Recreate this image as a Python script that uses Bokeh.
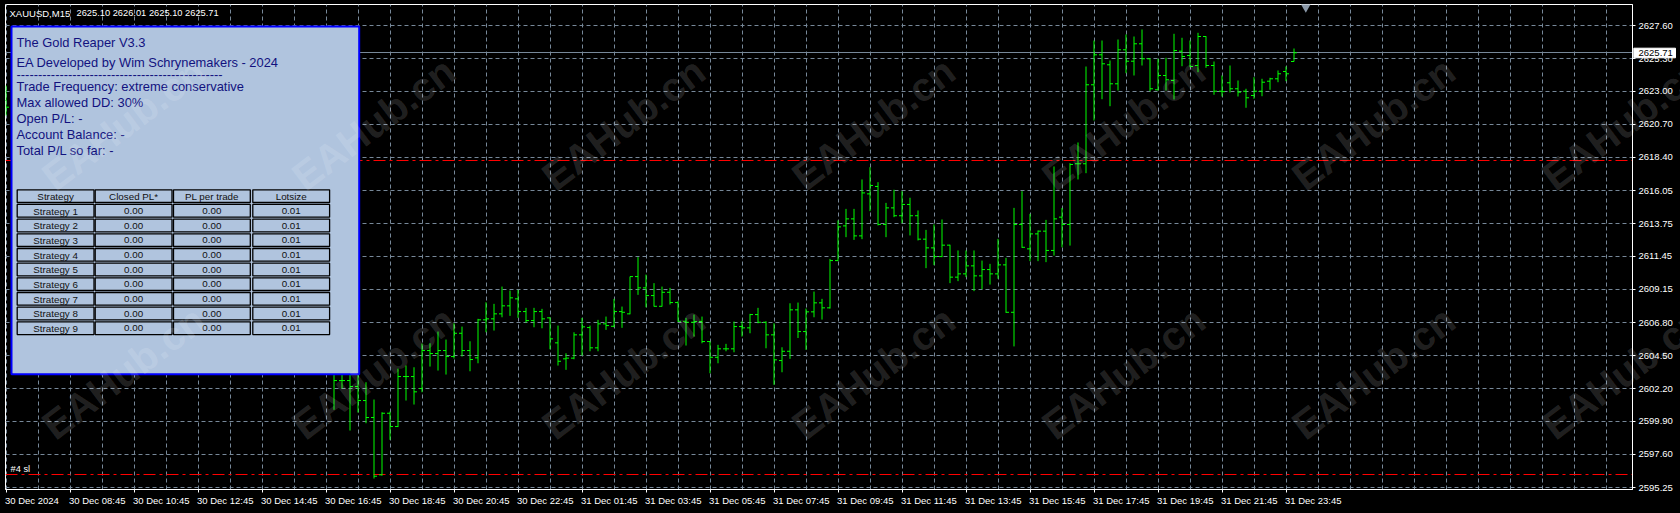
import math
from bokeh.plotting import figure
from bokeh.models import Range1d, FixedTicker, NumeralTickFormatter, ColumnDataSource
from bokeh.core.properties import value
from bokeh.embed import file_html
from bokeh.resources import INLINE

# ---------------- data ----------------
symbol = "XAUUSD,M15"
header_ohlc = ["2625.10", "2626.01", "2625.10", "2625.71"]
current_price = 2625.71

# bar positions (15-minute bars counted from the left edge of the window)
bar_index = [0] + list(range(41, 162))
opens = [2622.37,
         2604.02, 2602.76, 2602.76, 2602.34, 2601.36, 2600.17, 2596.16, 2600.47, 2599.54, 2603.04,
         2603.04, 2602.20, 2604.86, 2604.65, 2604.86, 2604.44, 2606.07, 2604.86, 2604.35, 2607.01,
         2607.08, 2607.43, 2607.99, 2608.48, 2607.59, 2606.96, 2607.59, 2607.15, 2605.40, 2604.28,
         2604.33, 2605.96, 2606.47, 2605.05, 2606.73, 2606.56, 2607.59, 2607.43, 2610.04, 2609.25,
         2608.71, 2607.96, 2608.94, 2608.22, 2606.91, 2606.84, 2606.89, 2605.49, 2604.39, 2604.98,
         2604.98, 2606.54, 2606.45, 2607.38, 2606.84, 2605.96, 2604.16, 2604.81, 2607.71, 2606.19,
         2607.57, 2608.20, 2607.85, 2611.16, 2613.59, 2614.08, 2612.89, 2615.83, 2616.35, 2613.69,
         2614.85, 2614.30, 2615.09, 2614.30, 2612.66, 2612.05, 2611.44, 2612.24, 2610.00, 2610.23,
         2610.79, 2610.09, 2610.53, 2610.23, 2610.86, 2607.54, 2613.69, 2611.98, 2613.03, 2613.22,
         2611.87, 2614.20, 2613.69, 2617.94, 2617.94, 2623.47, 2625.57, 2624.87, 2623.54, 2625.92,
         2625.12, 2626.34, 2625.29, 2623.12, 2624.12, 2623.77, 2625.82, 2625.52, 2624.82, 2626.85,
         2624.82, 2623.02, 2623.61, 2623.19, 2623.02, 2622.72, 2623.02, 2623.72, 2623.89, 2624.40,
         2625.10]
highs = [2623.42,
         2604.72, 2603.60, 2603.46, 2603.32, 2602.64, 2601.43, 2600.54, 2600.59, 2603.60, 2603.81,
         2603.69, 2605.35, 2605.37, 2606.19, 2605.63, 2606.77, 2606.54, 2605.51, 2607.08, 2608.24,
         2608.13, 2609.34, 2609.06, 2609.11, 2607.85, 2607.85, 2607.78, 2607.19, 2606.61, 2604.67,
         2606.14, 2607.15, 2606.61, 2607.01, 2607.24, 2608.48, 2607.94, 2610.04, 2611.40, 2610.18,
         2609.58, 2609.34, 2609.25, 2608.31, 2607.15, 2607.38, 2607.24, 2605.51, 2605.26, 2605.33,
         2606.89, 2606.91, 2607.43, 2607.85, 2606.91, 2606.77, 2605.09, 2608.17, 2608.22, 2607.80,
         2608.99, 2608.48, 2611.28, 2613.97, 2614.78, 2614.78, 2616.84, 2617.70, 2616.65, 2615.20,
         2616.12, 2616.02, 2615.56, 2614.67, 2613.31, 2613.69, 2614.04, 2612.27, 2611.87, 2611.87,
         2611.87, 2611.16, 2610.93, 2612.68, 2611.35, 2614.85, 2616.02, 2614.43, 2613.27, 2614.01,
         2617.75, 2614.85, 2617.98, 2619.43, 2624.75, 2626.57, 2626.57, 2625.17, 2626.64, 2626.99,
         2626.85, 2627.34, 2625.32, 2625.29, 2625.36, 2627.04, 2626.76, 2626.57, 2627.11, 2626.87,
         2625.10, 2624.12, 2624.82, 2623.77, 2623.19, 2624.00, 2623.89, 2623.96, 2624.47, 2624.75,
         2626.01]
lows = [2621.32,
        2600.71, 2602.20, 2599.26, 2600.52, 2599.77, 2595.90, 2596.10, 2598.61, 2599.50, 2601.36,
        2601.08, 2601.94, 2603.74, 2603.46, 2603.18, 2604.30, 2604.44, 2603.41, 2603.97, 2606.14,
        2606.26, 2607.19, 2607.29, 2607.15, 2606.82, 2606.49, 2606.42, 2604.95, 2603.81, 2603.51,
        2604.25, 2604.51, 2604.81, 2604.81, 2606.31, 2606.49, 2606.45, 2607.40, 2608.76, 2607.89,
        2607.94, 2607.94, 2608.08, 2606.88, 2605.21, 2605.84, 2605.37, 2603.27, 2603.97, 2604.81,
        2604.74, 2605.84, 2606.07, 2606.77, 2605.02, 2602.46, 2603.34, 2604.28, 2605.74, 2604.91,
        2607.19, 2607.03, 2607.80, 2611.12, 2612.80, 2612.61, 2612.66, 2614.62, 2613.62, 2612.80,
        2614.20, 2613.78, 2612.92, 2612.57, 2610.63, 2610.84, 2611.40, 2609.58, 2609.72, 2610.00,
        2609.02, 2609.16, 2609.48, 2609.89, 2607.50, 2605.15, 2612.05, 2611.12, 2611.12, 2611.05,
        2611.51, 2612.09, 2612.21, 2616.84, 2617.28, 2620.97, 2622.46, 2621.97, 2623.07, 2624.28,
        2624.12, 2624.82, 2623.02, 2623.07, 2623.07, 2622.44, 2624.77, 2624.70, 2624.35, 2624.66,
        2622.77, 2622.65, 2622.93, 2622.65, 2621.86, 2622.49, 2622.67, 2623.12, 2623.65, 2623.72,
        2625.10]
closes = [2621.90,
          2602.76, 2602.76, 2602.34, 2601.36, 2600.17, 2596.06, 2600.47, 2599.54, 2603.04, 2603.04,
          2601.97, 2604.86, 2604.65, 2604.86, 2604.44, 2606.07, 2604.86, 2604.23, 2607.01, 2607.08,
          2607.43, 2607.99, 2608.55, 2607.59, 2606.96, 2607.59, 2607.08, 2605.68, 2604.11, 2604.33,
          2605.96, 2606.52, 2605.05, 2606.73, 2606.61, 2607.59, 2607.54, 2610.04, 2609.25, 2608.71,
          2607.96, 2608.94, 2608.22, 2606.91, 2606.84, 2606.89, 2605.49, 2604.39, 2604.98, 2604.98,
          2606.54, 2606.45, 2607.38, 2606.84, 2605.96, 2604.21, 2604.81, 2607.71, 2606.19, 2607.57,
          2608.20, 2607.85, 2611.16, 2613.52, 2614.08, 2612.89, 2615.90, 2616.42, 2613.69, 2614.85,
          2614.30, 2615.09, 2614.30, 2612.66, 2612.05, 2611.44, 2612.24, 2610.00, 2610.23, 2610.79,
          2610.09, 2610.53, 2610.23, 2610.86, 2607.54, 2613.69, 2612.09, 2613.03, 2613.22, 2611.87,
          2614.08, 2613.69, 2617.89, 2617.94, 2623.47, 2625.57, 2624.94, 2623.54, 2625.92, 2625.12,
          2626.34, 2625.29, 2623.19, 2624.12, 2623.82, 2625.87, 2625.45, 2624.75, 2626.85, 2624.82,
          2623.02, 2622.99, 2623.19, 2622.95, 2622.56, 2623.02, 2623.65, 2623.89, 2624.24, 2624.24,
          2625.71]

time_tick_bars = [0, 8, 16, 24, 32, 40, 48, 56, 64, 72, 80, 88, 96, 104, 112, 120, 128, 136, 144, 152, 160]
time_tick_labels = ["30 Dec 2024", "30 Dec 08:45", "30 Dec 10:45", "30 Dec 12:45", "30 Dec 14:45",
                    "30 Dec 16:45", "30 Dec 18:45", "30 Dec 20:45", "30 Dec 22:45", "31 Dec 01:45",
                    "31 Dec 03:45", "31 Dec 05:45", "31 Dec 07:45", "31 Dec 09:45", "31 Dec 11:45",
                    "31 Dec 13:45", "31 Dec 15:45", "31 Dec 17:45", "31 Dec 19:45", "31 Dec 21:45",
                    "31 Dec 23:45"]
price_ticks = [2595.25, 2597.60, 2599.90, 2602.20, 2604.50, 2606.80, 2609.15, 2611.45,
               2613.75, 2616.05, 2618.40, 2620.70, 2623.00, 2625.30, 2627.60]

order_line_level = 2618.15
stop_loss_level = 2596.16
stop_loss_label = "#4 sl"

panel_lines = ["The Gold Reaper V3.3",
               "EA Developed by Wim Schrynemakers - 2024",
               "------------------------------------------------",
               "Trade Frequency: extreme conservative",
               "Max allowed DD: 30%",
               "Open P/L: -",
               "Account Balance: -",
               "Total P/L so far: -"]
table_header = ["Strategy", "Closed PL*", "PL per trade", "Lotsize"]
strategies = ["Strategy 1", "Strategy 2", "Strategy 3", "Strategy 4", "Strategy 5",
              "Strategy 6", "Strategy 7", "Strategy 8", "Strategy 9"]
closed_pl = ["0.00", "0.00", "0.00", "0.00", "0.00", "0.00", "0.00", "0.00", "0.00"]
pl_per_trade = ["0.00", "0.00", "0.00", "0.00", "0.00", "0.00", "0.00", "0.00", "0.00"]
lotsize = ["0.01", "0.01", "0.01", "0.01", "0.01", "0.01", "0.01", "0.01", "0.01"]
watermark = "EAHub.cn"

# ---------------- layout (pixels of the terminal window) ----------------
W, H = 1680, 513
FRAME_L, FRAME_T, FRAME_R, FRAME_B = 5, 4, 1632, 489
BAR_PX = 8.0
REF_X0 = 5.5             # screen x of bar 0
PRICE_AT_Y0 = 2629.3715  # price at screen y = 0
PRICE_PER_PX = 0.0700216


def rx(px):
    return (px - REF_X0) / BAR_PX


def ry(py):
    return PRICE_AT_Y0 - PRICE_PER_PX * py


X_START, X_END = rx(FRAME_L), rx(FRAME_R)
FONT = value("Liberation Sans")
GREEN = "#00FF00"
GRID = "#778899"

p = figure(width=W, height=H, x_range=Range1d(X_START, X_END),
           y_range=Range1d(ry(FRAME_B), ry(FRAME_T)),
           output_backend="svg", toolbar_location=None, y_axis_location="right",
           min_border_left=FRAME_L, min_border_top=FRAME_T, min_border_right=W - FRAME_R,
           min_border_bottom=H - FRAME_B, background_fill_color="black",
           border_fill_color="black", outline_line_color="white", outline_line_width=1)

try:
    from bokeh.models import GlobalInlineStyleSheet
    p.stylesheets = [GlobalInlineStyleSheet(css="body { background-color: #000000; }")]
except Exception:
    pass

# axes
p.xaxis.ticker = FixedTicker(ticks=time_tick_bars)
p.xaxis.major_label_overrides = {t: "" for t in time_tick_bars}
p.xaxis.axis_line_color = "white"
p.xaxis.major_tick_line_color = "white"
p.xaxis.major_tick_out = 3
p.xaxis.major_tick_in = 0
p.xaxis.minor_tick_line_color = None

p.yaxis.ticker = FixedTicker(ticks=price_ticks)
p.yaxis.formatter = NumeralTickFormatter(format="0.00")
p.yaxis.axis_line_color = "white"
p.yaxis.major_tick_line_color = "white"
p.yaxis.major_tick_out = 3
p.yaxis.major_tick_in = 0
p.yaxis.minor_tick_line_color = None
p.yaxis.major_label_standoff = 3
p.yaxis.major_label_text_color = "white"
p.yaxis.major_label_text_font = "Liberation Sans"
p.yaxis.major_label_text_font_size = "9.5px"

p.xgrid.ticker = FixedTicker(ticks=list(range(0, 204, 4)))
p.ygrid.ticker = FixedTicker(ticks=price_ticks)
for g in (p.xgrid, p.ygrid):
    g.grid_line_color = GRID
    g.grid_line_dash = "4 3"
    g.grid_line_width = 1

# horizontal lines (drawn under the panel)
p.hspan(y=[current_price], line_color=GRID, line_width=1)
p.hspan(y=[order_line_level, stop_loss_level], line_color="#FF0000", line_width=1,
        line_dash="12 4 3 4")

# bars
tick = 3.0 / BAR_PX
src = ColumnDataSource(dict(x=bar_index, o=opens, h=highs, l=lows, c=closes,
                            xl=[b - tick for b in bar_index], xr=[b + tick for b in bar_index]))
p.segment(x0="x", y0="l", x1="x", y1="h", source=src, line_color=GREEN, line_width=1)
p.segment(x0="xl", y0="o", x1="x", y1="o", source=src, line_color=GREEN, line_width=1)
p.segment(x0="x", y0="c", x1="xr", y1="c", source=src, line_color=GREEN, line_width=1)

# chart-shift marker
p.scatter(x=[rx(1305.3)], y=[ry(6.5)], marker="inverted_triangle", size=10,
          fill_color="#8a98a8", line_color=None)

# header text and sl label
p.text(x=[rx(9)], y=[ry(12.7)], text=[symbol], text_font=FONT, text_font_size="9.5px",
       text_color="white", text_baseline="middle", text_align="left")
p.text(x=[rx(76)], y=[ry(12.7)], text=[" ".join(header_ohlc)], text_font=FONT,
       text_font_size="9.3px", text_color="white", text_baseline="middle", text_align="left")
p.text(x=[rx(10)], y=[ry(468.5)], text=[stop_loss_label], text_font=FONT,
       text_font_size="9.3px", text_color="white", text_baseline="middle", text_align="left")

# time labels (left aligned at their tick like the terminal does)
p.text(x=time_tick_bars, y=[ry(499.5)] * len(time_tick_bars), text=time_tick_labels,
       text_font=FONT, text_font_size="9.5px", text_color="white", text_baseline="middle",
       text_align="left", x_offset=-1, level="overlay")

# current price box on the price scale
p.quad(left=[rx(1633.3)], right=[rx(1675)], top=[ry(47.7)], bottom=[ry(57.3)],
       fill_color="white", line_color="white", level="overlay")
p.text(x=[rx(1638)], y=[current_price], text=["%.2f" % current_price], text_font=FONT,
       text_font_size="9.5px", text_color="black", text_baseline="middle", text_align="left",
       level="overlay")

# info panel
p.quad(left=[rx(11)], right=[rx(358.7)], top=[ry(26)], bottom=[ry(373.7)],
       fill_color="#B0C4DE", line_color="#0000FF", line_width=2)
baselines = [42, 62, 73.5, 85.8, 102, 118, 134, 150]
p.text(x=[rx(16)] * len(panel_lines), y=[ry(b) for b in baselines], text=panel_lines,
       text_font=FONT, text_font_size="12.9px", text_color="#12127e",
       text_baseline="alphabetic", text_align="left")

col_left = [16.7, 94.7, 173.0, 252.3]
col_w = 76.8
row_top0, row_pitch, row_h = 189.3, 14.67, 12.7
cells_l, cells_r, cells_t, cells_b, cx, cy, ctext = [], [], [], [], [], [], []
rows = [table_header] + [[s, a, b, c] for s, a, b, c in zip(strategies, closed_pl, pl_per_trade, lotsize)]
for r, row in enumerate(rows):
    top = row_top0 + r * row_pitch
    for c, txt in enumerate(row):
        cells_l.append(rx(col_left[c]))
        cells_r.append(rx(col_left[c] + col_w))
        cells_t.append(ry(top))
        cells_b.append(ry(top + row_h))
        cx.append(rx(col_left[c] + col_w / 2))
        cy.append(ry(top + row_h / 2 + 0.3))
        ctext.append(txt)
p.quad(left=cells_l, right=cells_r, top=cells_t, bottom=cells_b, fill_color="#B0C4DE",
       line_color="black", line_width=1.3)
p.text(x=cx, y=cy, text=ctext, text_font=FONT, text_font_size="9.8px", text_color="#111111",
       text_baseline="middle", text_align="center")

# watermark
wm_x = [123 + 250 * k for k in range(7)]
wx, wy = [], []
for yy in (123, 372):
    for xx in wm_x:
        wx.append(rx(xx))
        wy.append(ry(yy))
p.text(x=wx, y=wy, text=[watermark] * len(wx), angle=math.radians(37), text_font=FONT,
       text_font_style="bold", text_font_size="40px", text_color="white", text_alpha=0.14,
       text_baseline="middle", text_align="center", level="overlay")

open("out.html", "w").write(file_html(p, INLINE))
